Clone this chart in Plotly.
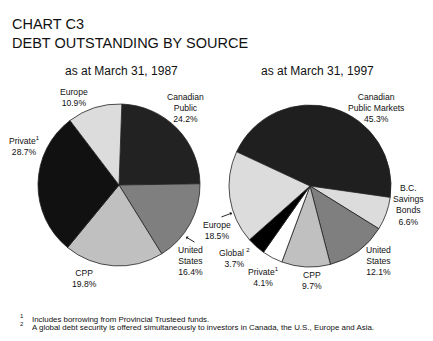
import plotly.graph_objects as go

W, H = 433, 341

# ---- data ----
labels_1987 = ["Canadian Public", "United States", "CPP", "Private", "Europe"]
values_1987 = [24.2, 16.4, 19.8, 28.7, 10.9]
colors_1987 = ["#222222", "#7f7f7f", "#c0c0c0", "#111111", "#dcdcdc"]

labels_1997 = ["Canadian Public Markets", "B.C. Savings Bonds", "United States",
               "CPP", "Private", "Global", "Europe"]
values_1997 = [45.3, 6.6, 12.1, 9.7, 4.1, 3.7, 18.5]
colors_1997 = ["#1f1f1f", "#dcdcdc", "#7f7f7f", "#c0c0c0", "#ffffff", "#000000", "#dcdcdc"]

label_text_1987 = ["Canadian<br>Public<br>24.2%", "United<br>States<br>16.4%",
                   "CPP<br>19.8%", "Private<sup>1</sup><br>28.7%", "Europe<br>10.9%"]
label_text_1997 = ["Canadian<br>Public Markets<br>45.3%", "B.C.<br>Savings<br>Bonds<br>6.6%",
                   "United<br>States<br>12.1%", "CPP<br>9.7%", "Private<sup>1</sup><br>4.1%",
                   "Global <sup>2</sup><br>3.7%", "Europe<br>18.5%"]

footnotes = ["Includes borrowing from Provincial Trusteed funds.",
             "A global debt security is offered simultaneously to investors in Canada, the U.S., Europe and Asia."]

FONT = "Liberation Sans, Arial, sans-serif"


def px(x):
    return x / W


def py(y):
    return 1 - y / H


fig = go.Figure()

# left pie: centre (119,185), r 81
fig.add_trace(go.Pie(
    labels=labels_1987, values=values_1987, sort=False, direction="clockwise",
    rotation=2, textinfo="none", hoverinfo="label+percent",
    marker=dict(colors=colors_1987, line=dict(color="#222222", width=0.8)),
    domain=dict(x=[px(38), px(200)], y=[py(266), py(104)]),
    showlegend=False,
))
# right pie: centre (310,186), r 81
fig.add_trace(go.Pie(
    labels=labels_1997, values=values_1997, sort=False, direction="clockwise",
    rotation=-65, textinfo="none", hoverinfo="label+percent",
    marker=dict(colors=colors_1997, line=dict(color="#222222", width=0.8)),
    domain=dict(x=[px(229), px(391)], y=[py(267), py(105)]),
    showlegend=False,
))

ann = []


def text(x, y, s, size=8.6, xanchor="center", yanchor="middle", align="center"):
    ann.append(dict(x=px(x), y=py(y), xref="paper", yref="paper", text=s,
                    showarrow=False, xanchor=xanchor, yanchor=yanchor, align=align,
                    font=dict(family=FONT, size=size, color="#111111")))


# titles
text(10, 24, "CHART C3", size=14.5, xanchor="left")
text(10, 43, "DEBT OUTSTANDING BY SOURCE", size=14.5, xanchor="left")
text(121, 71, "as at March 31, 1987", size=12)
text(317, 71, "as at March 31, 1997", size=12)

# slice labels (centres of text blocks)
pos_1987 = [(185, 108), (190, 261), (84, 278), (24, 146), (74, 98)]
for (x, y), s in zip(pos_1987, label_text_1987):
    text(x, y, s)
pos_1997 = [(376, 108), (408, 204.5), (378, 261), (312, 280), (263, 277), (234, 258), (217, 231)]
for (x, y), s in zip(pos_1997, label_text_1997):
    text(x, y, s)

# pointer arrows
for (hx, hy, ax, ay) in [(186, 237, 10, 6), (232, 213, -12, 4.5)]:
    ann.append(dict(x=px(hx), y=py(hy), xref="paper", yref="paper", text=" ",
                    showarrow=True, ax=ax, ay=ay, arrowhead=1, arrowsize=0.7,
                    arrowwidth=0.9, arrowcolor="#111111", standoff=0,
                    font=dict(size=1)))

# footnotes
for i, s in enumerate(footnotes):
    y = 319 + i * 8
    text(18, y - 3, str(i + 1), size=6, xanchor="left")
    text(30, y, s, size=7.9, xanchor="left")

fig.update_layout(
    width=W, height=H, margin=dict(l=0, r=0, t=0, b=0),
    paper_bgcolor="white", plot_bgcolor="white",
    annotations=ann,
    font=dict(family=FONT),
)

fig.write_html("out.html")
